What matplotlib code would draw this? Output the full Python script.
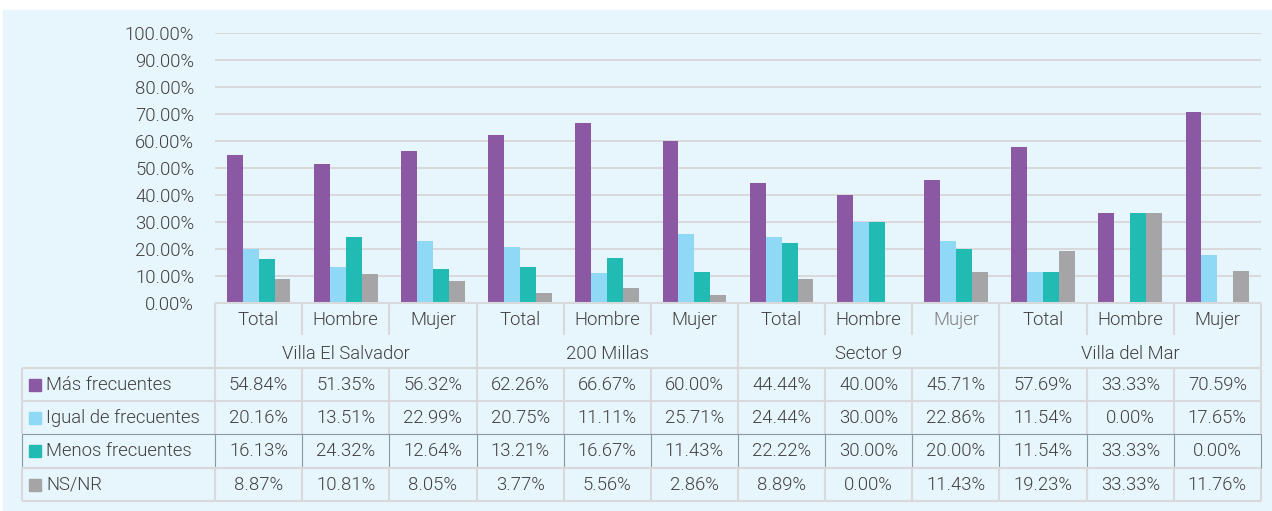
import matplotlib.pyplot as plt
from matplotlib.patches import Rectangle
import numpy as np

plt.rcParams['font.family'] = ['Roboto', 'DejaVu Sans']
plt.rcParams['font.weight'] = 300

# datos
grupos = ['Villa El Salvador', '200 Millas', 'Sector 9', 'Villa del Mar']
sexos = ['Total', 'Hombre', 'Mujer']
series = ['Más frecuentes', 'Igual de frecuentes', 'Menos frecuentes', 'NS/NR']
mas = [54.84, 51.35, 56.32, 62.26, 66.67, 60.00, 44.44, 40.00, 45.71, 57.69, 33.33, 70.59]
igual = [20.16, 13.51, 22.99, 20.75, 11.11, 25.71, 24.44, 30.00, 22.86, 11.54, 0.00, 17.65]
menos = [16.13, 24.32, 12.64, 13.21, 16.67, 11.43, 22.22, 30.00, 20.00, 11.54, 33.33, 0.00]
nsnr = [8.87, 10.81, 8.05, 3.77, 5.56, 2.86, 8.89, 0.00, 11.43, 19.23, 33.33, 11.76]
valores = [mas, igual, menos, nsnr]

colores = ['#8b59a4', '#8fd8f6', '#22bbb3', '#a5a5a8']
fondo = '#e7f5fc'
txt = '#404040'
linea = '#d9d9db'
oscuro = '#8a98a6'
fs = 13.3

W, H = 1272, 511
fig = plt.figure(figsize=(W / 100, H / 100), dpi=100)
fig.patch.set_facecolor('white')
fig.add_artist(Rectangle((3 / W, 0), 1, 501 / H, transform=fig.transFigure,
                         color=fondo, zorder=0))

# grafico de barras
x0, x1 = 215, 1261
ax = fig.add_axes([x0 / W, (H - 303) / H, (x1 - x0) / W, 270 / H])
ax.set_facecolor('none')
n = len(mas)
x = np.arange(n) + 0.5
bw = 0.183
for i, (vals, c) in enumerate(zip(valores, colores)):
    ax.bar(x + (i - 1.5) * bw, vals, bw, color=c, zorder=3)
ax.set_xlim(0, n)
ax.set_ylim(0, 100)
ax.set_yticks(np.arange(0, 101, 10))
ax.yaxis.set_major_formatter(lambda v, p: f'{v:.2f}%')
ax.tick_params(axis='y', length=0, pad=15, labelsize=fs, labelcolor=txt)
ax.set_xticks([])
ax.grid(axis='y', color=linea, lw=1.4, zorder=0)
for s in ax.spines.values():
    s.set_visible(False)

# tabla de datos (x en columnas, y en pixeles)
tb = fig.add_axes([x0 / W, 0, (x1 - x0) / W, 208 / H])
tb.set_xlim(0, n)
tb.set_ylim(511, 303)
tb.axis('off')
px = (x1 - x0) / n
xl = (22 - x0) / px
filas = [368, 401, 434, 468, 501]

def hl(y, a, b, c=linea, lw=1.5):
    tb.plot([a, b], [y, y], color=c, lw=lw, clip_on=False, solid_capstyle='butt')

def vl(xx, a, b, c=linea, lw=1.5):
    tb.plot([xx, xx], [a, b], color=c, lw=lw, clip_on=False, solid_capstyle='butt')

hl(303, 0, n)
for k in range(n + 1):
    if k % 3 == 0:
        vl(k, 303, 434)
    else:
        vl(k, 303, 335)
        vl(k, 368, 434)
    vl(k, 468, 501)
    vl(k, 434, 468, oscuro, 0.8)
vl(xl, 368, 434)
vl(xl, 434, 468, oscuro, 0.8)
vl(xl, 468, 501)
for y in [368, 401, 468, 501]:
    hl(y, xl, n)
hl(434, xl, n, oscuro, 0.8)

for k in range(n):
    col = '#7f7f7f' if k == 8 else txt
    tb.text(k + 0.5, 320, sexos[k % 3], ha='center', va='center', fontsize=fs, color=col)
for g, nombre in enumerate(grupos):
    tb.text(g * 3 + 1.5, 354, nombre, ha='center', va='center', fontsize=fs, color=txt)

for r, (nombre, vals, c) in enumerate(zip(series, valores, colores)):
    yc = (filas[r] + filas[r + 1]) / 2
    tb.add_patch(Rectangle(((29 - x0) / px, yc - 6), 12 / px, 12, color=c, clip_on=False))
    tb.text((46 - x0) / px, yc, nombre, ha='left', va='center', fontsize=fs, color=txt)
    for k, v in enumerate(vals):
        tb.text(k + 0.5, yc, f'{v:.2f}%', ha='center', va='center', fontsize=fs, color=txt)

fig.savefig('out.png', dpi=100, facecolor=fig.get_facecolor())
